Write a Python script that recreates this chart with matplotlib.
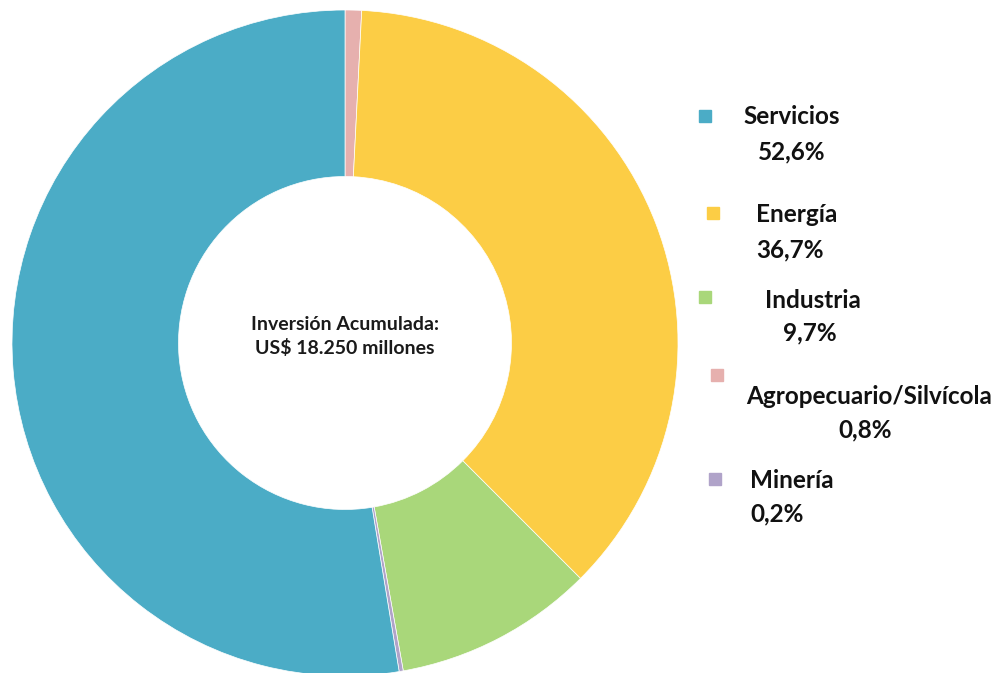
import matplotlib.pyplot as plt

# data (clockwise from 12 o'clock, as drawn)
sectores = ["Agropecuario/Silvícola", "Energía", "Industria", "Minería", "Servicios"]
valores = [0.8, 36.7, 9.7, 0.2, 52.6]
colores = ["#E6B0AE", "#FCCD45", "#A9D77A", "#B0A3C9", "#4BACC6"]

# legend order
orden_legenda = ["Servicios", "Energía", "Industria", "Agropecuario/Silvícola", "Minería"]
etiquetas_pct = ["52,6%", "36,7%", "9,7%", "0,8%", "0,2%"]

centro_texto = "Inversión Acumulada:\nUS$ 18.250 millones"

plt.rcParams['font.family'] = ['Lato', 'DejaVu Sans']

fig = plt.figure(figsize=(9.95, 6.73), dpi=100)
W, H = 995, 673

# pie axes: center (345,343) px, radius 333 px
cx, cy, r = 345, 343, 333
ax = fig.add_axes([(cx - r) / W, (H - cy - r) / H, 2 * r / W, 2 * r / H])
ax.pie(valores, colors=colores, startangle=90, counterclock=False, radius=1,
       wedgeprops=dict(width=0.5, edgecolor="white", linewidth=0.5))
ax.set_xlim(-1, 1)
ax.set_ylim(-1, 1)
ax.set_aspect("equal")
ax.axis("off")

ax.text(0, 0.02, centro_texto, ha="center", va="center", fontsize=14,
        fontweight="bold", linespacing=1.4, color="#1a1a1a")

# custom legend: marker px pos, label px center, pct px center
marcadores = [(705, 116), (713, 213), (705, 297), (717, 375), (715, 479)]
pos_label = [(792, 117), (797, 215), (813, 300), (869, 397), (792, 480)]
pos_pct = [(792, 152), (790, 250), (810, 333), (865, 430), (777, 514)]

color_de = dict(zip(sectores, colores))
for nombre, pct, m, l, p in zip(orden_legenda, etiquetas_pct, marcadores, pos_label, pos_pct):
    fig.patches.append(plt.Rectangle(((m[0] - 6) / W, (H - m[1] - 6) / H), 12 / W, 12 / H,
                                     transform=fig.transFigure, color=color_de[nombre]))
    fig.text(l[0] / W, (H - l[1]) / H, nombre, ha="center", va="center",
             fontsize=17.5, fontweight="bold", color="#111111")
    fig.text(p[0] / W, (H - p[1]) / H, pct, ha="center", va="center",
             fontsize=17.5, fontweight="bold", color="#111111")

fig.savefig("out.png", dpi=100, facecolor="white")
